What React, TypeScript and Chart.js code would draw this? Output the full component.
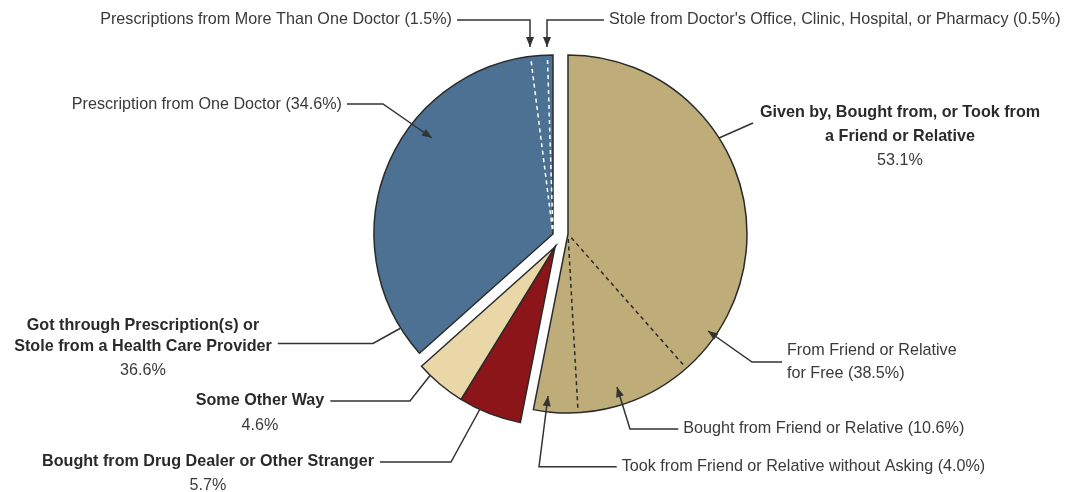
import { useEffect, useRef } from 'react';
import { Chart, PieController, ArcElement } from 'chart.js';

Chart.register(PieController, ArcElement);

// ---- data -------------------------------------------------------------
const categories = [
  'Given by, Bought from, or Took from a Friend or Relative',
  'Bought from Drug Dealer or Other Stranger',
  'Some Other Way',
  'Got through Prescription(s) or Stole from a Health Care Provider',
];
const shares = [53.1, 5.7, 4.6, 36.6];

const friendLabels = [
  'From Friend or Relative for Free',
  'Bought from Friend or Relative',
  'Took from Friend or Relative without Asking',
];
const friendShares = [38.5, 10.6, 4.0];

const rxLabels = [
  'Prescription from One Doctor',
  'Prescriptions from More Than One Doctor',
  "Stole from Doctor's Office, Clinic, Hospital, or Pharmacy",
];
const rxShares = [34.6, 1.5, 0.5];

// ---- styles -----------------------------------------------------------
const sliceColors = ['#BEAC79', '#8C1519', '#E9D7A8', '#4D7193'];
const sliceShift: [number, number][] = [
  [7.5, 0],
  [-5.5, 13],
  [-5.5, 13],
  [-7.5, 0],
];
const FONT = '"Liberation Sans", Arial, sans-serif';
const FONT_SIZE = 17;
const TEXT_SX = 0.95;
const TEXT = '#3a3a3a';
const BOLD_TEXT = '#2a2a2a';
const LINE = '#333333';

const pct = (v: number) => `${v.toFixed(1)}%`;

type Line = { text: string; bold?: boolean; y: number };
type Callout = {
  lines: Line[];
  x: number;
  align: 'left' | 'right' | 'center';
  attach?: number;
  path: [number, number][];
  arrow: boolean;
};

const callouts: Callout[] = [
  {
    lines: [{ text: `${rxLabels[1]} (${pct(rxShares[1])})`, y: 19.5 }],
    x: 452, align: 'right', attach: 0,
    path: [[0, 20], [530, 20], [530, 47]], arrow: true,
  },
  {
    lines: [{ text: `${rxLabels[2]} (${pct(rxShares[2])})`, y: 19.5 }],
    x: 609, align: 'left', attach: 0,
    path: [[0, 20], [547, 20], [547, 47]], arrow: true,
  },
  {
    lines: [{ text: `${rxLabels[0]} (${pct(rxShares[0])})`, y: 104 }],
    x: 342, align: 'right', attach: 0,
    path: [[0, 104], [383, 104], [432, 138]], arrow: true,
  },
  {
    lines: [
      { text: 'Given by, Bought from, or Took from', bold: true, y: 112.7 },
      { text: 'a Friend or Relative', bold: true, y: 136.7 },
      { text: pct(shares[0]), y: 160 },
    ],
    x: 900, align: 'center',
    path: [[753, 123], [719, 138]], arrow: false,
  },
  {
    lines: [
      { text: 'From Friend or Relative', y: 350.7 },
      { text: `for Free (${pct(friendShares[0])})`, y: 373.3 },
    ],
    x: 787, align: 'left', attach: 0,
    path: [[0, 362], [752, 362], [708, 331]], arrow: true,
  },
  {
    lines: [{ text: `${friendLabels[1]} (${pct(friendShares[1])})`, y: 428.3 }],
    x: 683.3, align: 'left', attach: 0,
    path: [[0, 429], [630, 429], [617, 387]], arrow: true,
  },
  {
    lines: [{ text: `${friendLabels[2]} (${pct(friendShares[2])})`, y: 466.7 }],
    x: 621.7, align: 'left', attach: 0,
    path: [[0, 466.7], [539, 466.7], [548, 396]], arrow: true,
  },
  {
    lines: [
      { text: 'Got through Prescription(s) or', bold: true, y: 325 },
      { text: 'Stole from a Health Care Provider', bold: true, y: 346.7 },
      { text: pct(shares[3]), y: 370.7 },
    ],
    x: 143, align: 'center', attach: 1,
    path: [[0, 343.5], [373, 343.5], [400, 328.5]], arrow: false,
  },
  {
    lines: [
      { text: categories[2], bold: true, y: 400 },
      { text: pct(shares[2]), y: 425 },
    ],
    x: 260, align: 'center', attach: 0,
    path: [[0, 401], [410, 401], [430, 375.5]], arrow: false,
  },
  {
    lines: [
      { text: categories[1], bold: true, y: 461.7 },
      { text: pct(shares[1]), y: 485 },
    ],
    x: 208, align: 'center', attach: 0,
    path: [[0, 462], [451, 462], [480, 409]], arrow: false,
  },
];

// ---- plugins ----------------------------------------------------------
const explodePlugin = {
  id: 'explodeSlices',
  beforeDatasetsDraw(chart: any) {
    const meta = chart.getDatasetMeta(0);
    meta.data.forEach((el: any, i: number) => {
      if (el.__shifted) return;
      const base = el.draw;
      el.draw = function (ctx: CanvasRenderingContext2D, area: any) {
        ctx.save();
        ctx.translate(sliceShift[i][0], sliceShift[i][1]);
        base.call(this, ctx, area);
        ctx.restore();
      };
      el.__shifted = true;
    });
  },
};

const annotatePlugin = {
  id: 'annotate',
  afterDatasetsDraw(chart: any) {
    const ctx: CanvasRenderingContext2D = chart.ctx;
    const meta = chart.getDatasetMeta(0);

    const dividers = (idx: number, subs: number[], color: string) => {
      const el: any = meta.data[idx];
      const { x, y, startAngle, endAngle, outerRadius } = el.getProps(
        ['x', 'y', 'startAngle', 'endAngle', 'outerRadius'], true);
      const cx = x + sliceShift[idx][0];
      const cy = y + sliceShift[idx][1];
      const total = subs.reduce((a, b) => a + b, 0);
      let cum = 0;
      ctx.save();
      ctx.strokeStyle = color;
      ctx.lineWidth = 1.5;
      ctx.setLineDash([4, 3.5]);
      for (let k = 0; k < subs.length - 1; k++) {
        cum += subs[k];
        const a = startAngle + (endAngle - startAngle) * (cum / total);
        ctx.beginPath();
        ctx.moveTo(cx + Math.cos(a) * 5, cy + Math.sin(a) * 5);
        ctx.lineTo(cx + Math.cos(a) * (outerRadius - 2), cy + Math.sin(a) * (outerRadius - 2));
        ctx.stroke();
      }
      ctx.restore();
    };
    dividers(0, friendShares, '#2a2a2a');
    dividers(3, rxShares, '#ffffff');

    ctx.save();
    ctx.textBaseline = 'middle';
    for (const c of callouts) {
      let edge = 0;
      c.lines.forEach((ln, i) => {
        ctx.font = `${ln.bold ? 'bold ' : ''}${FONT_SIZE}px ${FONT}`;
        ctx.fillStyle = ln.bold ? BOLD_TEXT : TEXT;
        ctx.textAlign = c.align;
        ctx.save();
        ctx.translate(c.x, ln.y);
        ctx.scale(TEXT_SX, 1);
        ctx.fillText(ln.text, 0, 0);
        ctx.restore();
        if (i === c.attach) {
          const w = ctx.measureText(ln.text).width * TEXT_SX;
          if (c.align === 'left') edge = c.x - 5;
          else if (c.align === 'right') edge = c.x + 5;
          else edge = c.x + w / 2 + 6;
        }
      });
      const pts = c.path.map((p) => [p[0], p[1]] as [number, number]);
      if (c.attach !== undefined) pts[0][0] = edge;
      ctx.strokeStyle = LINE;
      ctx.lineWidth = 1.5;
      ctx.setLineDash([]);
      ctx.beginPath();
      ctx.moveTo(pts[0][0], pts[0][1]);
      for (let i = 1; i < pts.length; i++) ctx.lineTo(pts[i][0], pts[i][1]);
      ctx.stroke();
      if (c.arrow) {
        const [tx, ty] = pts[pts.length - 1];
        const [px, py] = pts[pts.length - 2];
        const ang = Math.atan2(ty - py, tx - px);
        const L = 10, W = 4;
        ctx.fillStyle = LINE;
        ctx.beginPath();
        ctx.moveTo(tx, ty);
        ctx.lineTo(tx - L * Math.cos(ang) + W * Math.sin(ang), ty - L * Math.sin(ang) - W * Math.cos(ang));
        ctx.lineTo(tx - L * Math.cos(ang) - W * Math.sin(ang), ty - L * Math.sin(ang) + W * Math.cos(ang));
        ctx.closePath();
        ctx.fill();
      }
    }
    ctx.restore();
  },
};

export default function App() {
  const ref = useRef<HTMLCanvasElement>(null);
  useEffect(() => {
    if (!ref.current) return;
    const chart = new Chart(ref.current, {
      type: 'pie',
      data: {
        labels: categories,
        datasets: [
          {
            data: shares,
            backgroundColor: sliceColors,
            borderColor: '#2a2a2a',
            borderWidth: 1.5,
            borderJoinStyle: 'miter',
            radius: 179,
          } as any,
        ],
      },
      options: {
        responsive: true,
        maintainAspectRatio: false,
        animation: false,
        layout: { padding: { left: 54, bottom: 24, top: 0, right: 0 } },
        events: [],
        plugins: {
          legend: { display: false },
          tooltip: { enabled: false },
        },
      } as any,
      plugins: [explodePlugin, annotatePlugin],
    });
    return () => chart.destroy();
  }, []);
  return (
    <div style={{ position: 'fixed', left: 0, top: 0, width: 1067, height: 492, background: '#fff' }}>
      <canvas ref={ref} />
    </div>
  );
}
